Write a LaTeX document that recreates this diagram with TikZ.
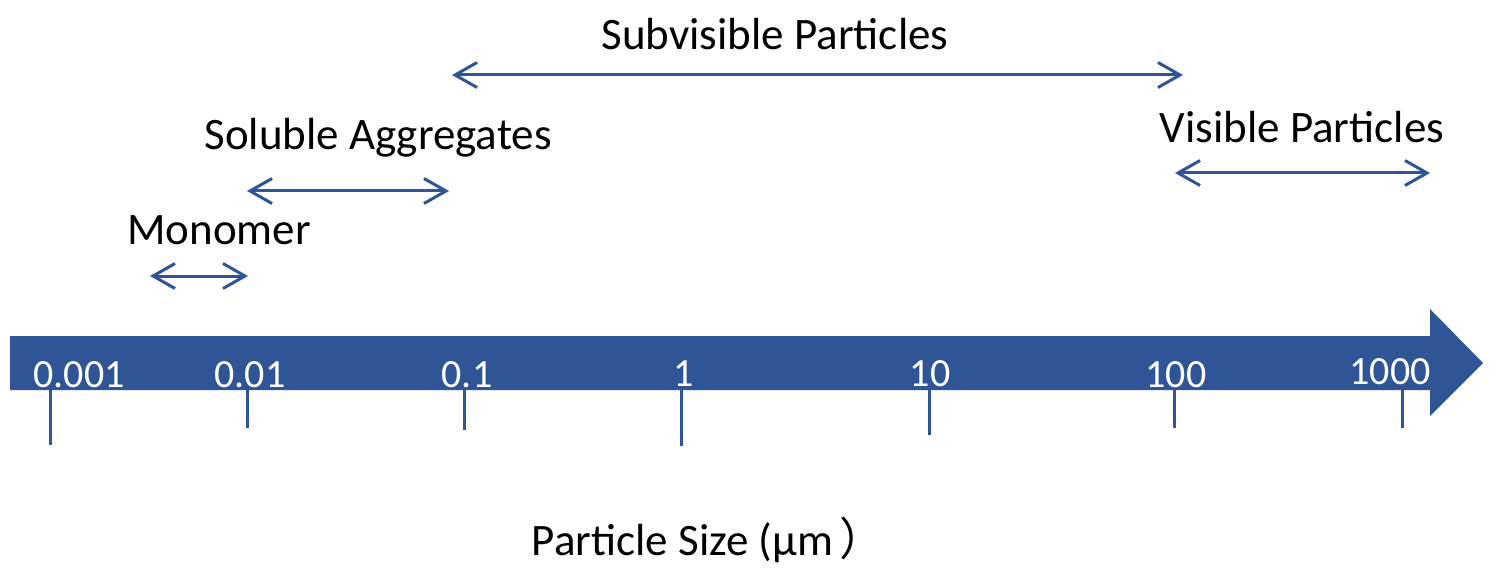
\documentclass[tikz,border=0pt]{standalone}
\usepackage{fontspec}
\setmainfont{Carlito}
\newfontfamily\cjkfont{Noto Sans CJK SC}
\usetikzlibrary{arrows.meta}
\definecolor{axisblue}{HTML}{2F5597}

\tikzset{
  spanline/.style={draw=axisblue, line width=1.5pt,
    {Straight Barb[length=11pt,width=12.5pt]}-{Straight Barb[length=11pt,width=12.5pt]}},
  tickline/.style={draw=axisblue, line width=1.5pt},
  numlabel/.style={text=white, inner sep=0pt, font=\fontsize{20}{23}\selectfont},
  sizelabel/.style={inner sep=0pt, font=\fontsize{22.5}{26}\selectfont}
}

\begin{document}
\begin{tikzpicture}[x=0.5pt,y=-0.5pt]
        \useasboundingbox (0,0) rectangle (1497,577);
        % axis
        \fill[axisblue] (10,336) -- (1430,336) -- (1430,309) -- (1483,363)
              -- (1430,416) -- (1430,390) -- (10,390) -- cycle;
        \node[numlabel] (n0) at (79,375) {0.001};
        \node[numlabel] (n1) at (250,375) {0.01};
        \node[numlabel] (n2) at (467,375) {0.1};
        \node[numlabel] (n3) at (684,374) {1};
        \node[numlabel] (n4) at (930,374) {10};
        \node[numlabel] (n5) at (1176,375) {100};
        \node[numlabel] (n6) at (1390,372) {1000};
        \coordinate (a0) at (50,390);   \coordinate (b0) at (50,445);
        \coordinate (a1) at (247,390);  \coordinate (b1) at (247,428);
        \coordinate (a2) at (464,390);  \coordinate (b2) at (464,430);
        \coordinate (a3) at (681,390);  \coordinate (b3) at (681,446);
        \coordinate (a4) at (929,390);  \coordinate (b4) at (929,435);
        \coordinate (a5) at (1174,390); \coordinate (b5) at (1174,428);
        \coordinate (a6) at (1402,390); \coordinate (b6) at (1402,428);
        \draw[tickline] (a0) -- (b0);
        \draw[tickline] (a1) -- (b1);
        \draw[tickline] (a2) -- (b2);
        \draw[tickline] (a3) -- (b3);
        \draw[tickline] (a4) -- (b4);
        \draw[tickline] (a5) -- (b5);
        \draw[tickline] (a6) -- (b6);
        % ranges
        \node[sizelabel] (sub) at (775,34) {Subvisible Particles};
        \node[sizelabel] (vis) at (1302,127) {Visible Particles};
        \node[sizelabel] (agg) at (378,138) {Soluble Aggregates};
        \node[sizelabel] (mono) at (219,230) {Monomer};
        \coordinate (sub-l) at (452,75);   \coordinate (sub-r) at (1183,75);
        \coordinate (vis-l) at (1175,173); \coordinate (vis-r) at (1430,173);
        \coordinate (agg-l) at (247,191);  \coordinate (agg-r) at (449,191);
        \coordinate (mono-l) at (150,276); \coordinate (mono-r) at (248,276);
        \draw[spanline] (sub-l) -- (sub-r);
        \draw[spanline] (vis-l) -- (vis-r);
        \draw[spanline] (agg-l) -- (agg-r);
        \draw[spanline] (mono-l) -- (mono-r);
        \node[sizelabel] (size) at (708,540) {Particle Size (µm\hspace{3pt}{\cjkfont ）}};
    \end{tikzpicture}
\end{document}
